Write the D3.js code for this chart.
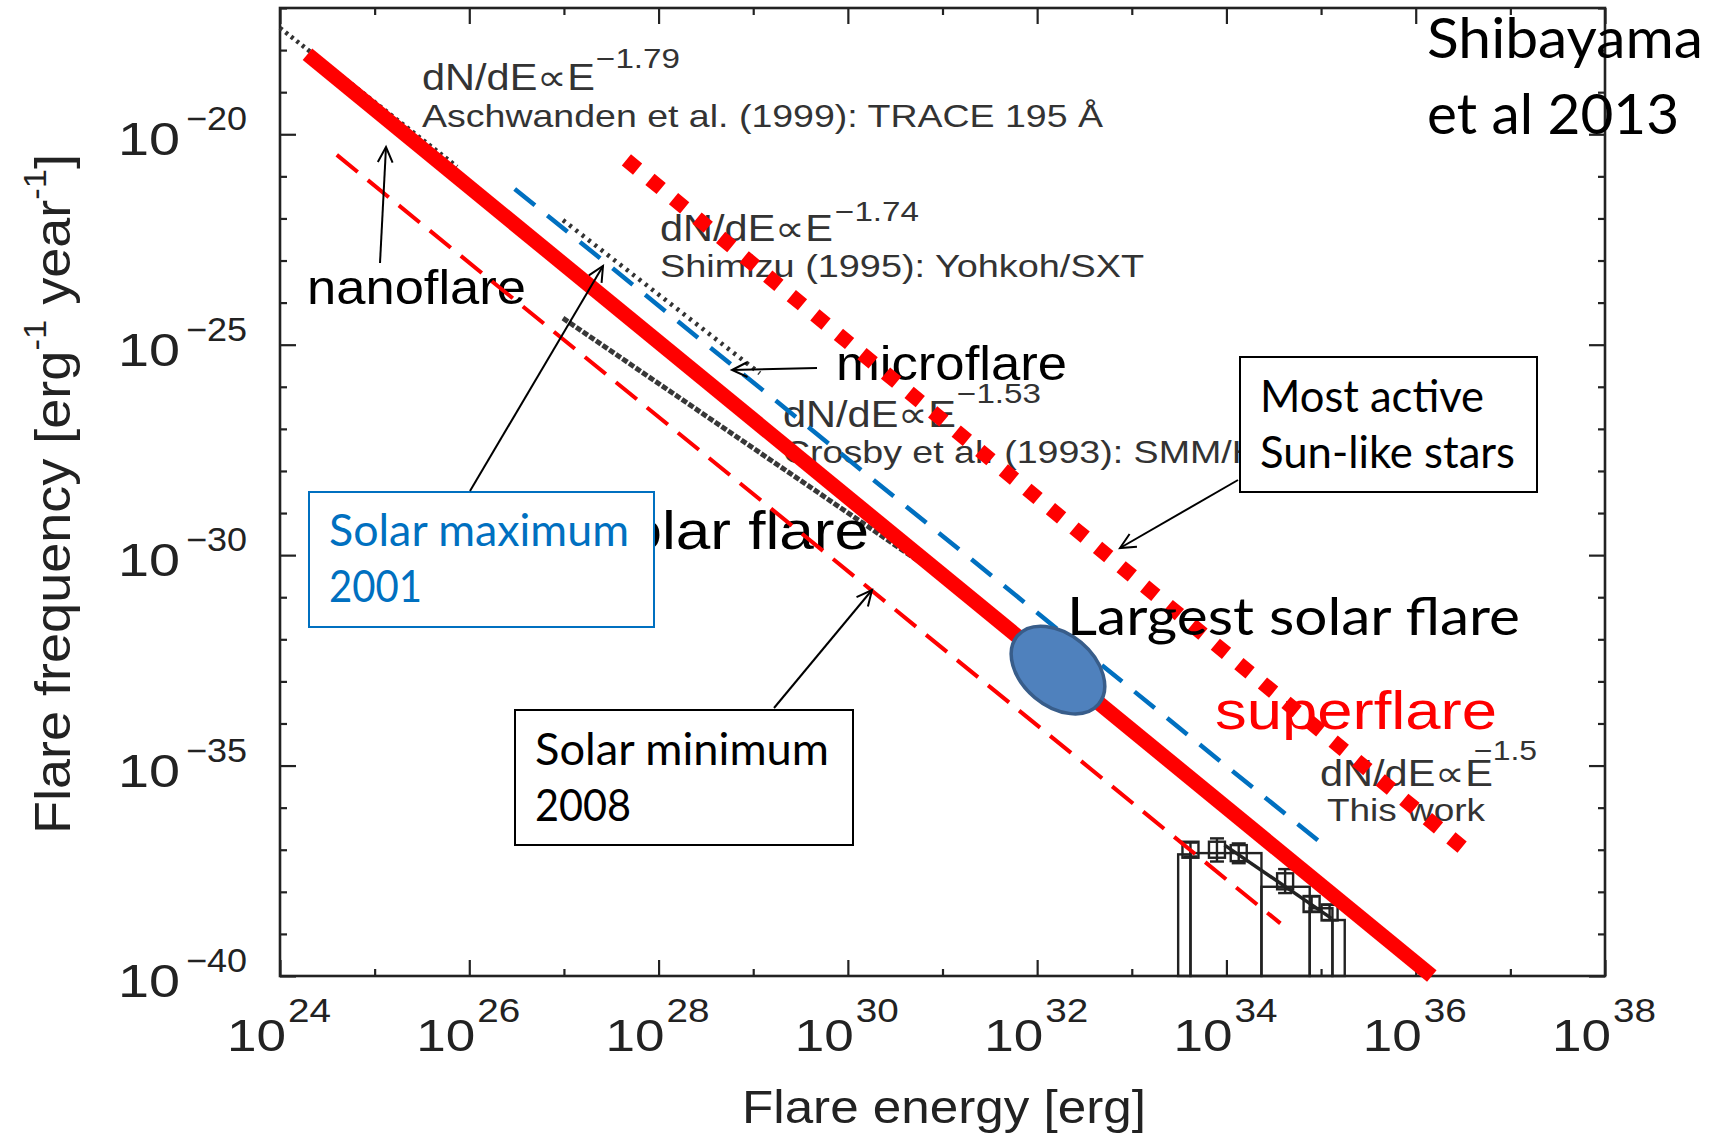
<!DOCTYPE html>
<html>
<head>
<meta charset="utf-8">
<script src="https://cdn.jsdelivr.net/npm/d3@7"></script>
<style>
  html, body { margin: 0; padding: 0; background: #fff; }
  svg { display: block; }
</style>
</head>
<body>
<div id="chart"></div>
<script>
/* Flare frequency distribution (Shibayama et al. 2013 style slide) */

/* ---- axis ticks (log10 exponents) ---- */
const xLabelExp = [24, 26, 28, 30, 32, 34, 36, 38];
const yLabelExp = [-20, -25, -30, -35, -40];

/* ---- power-law lines: log10 energy / log10 frequency end points ---- */
const aschwandenLogE = [24.0, 25.87];
const aschwandenLogF = [-17.475, -20.77];
const shimizuLogE = [26.99, 29.07];
const shimizuLogF = [-22.04, -25.68];
const crosbyLogE = [26.99, 30.85];
const crosbyLogF = [-24.37, -30.3];
const solarMinLogE = [24.6, 34.57];
const solarMinLogF = [-20.49, -38.75];
const solarMaxLogE = [26.48, 34.99];
const solarMaxLogF = [-21.3, -36.82];
const solarFlareLogE = [24.29, 36.17];
const solarFlareLogF = [-18.1, -40.0];
const activeStarsLogE = [27.66, 36.55];
const activeStarsLogF = [-20.61, -37.05];

/* ---- "This work" superflare histogram + points ---- */
const histEdgesLogE = [33.49, 33.62, 34.37, 34.88, 35.12, 35.25];
const histTopLogF = [-37.11, -37.08, -37.88, -38.39, -38.67];
const obsLogE = [33.62, 33.90, 34.13, 34.62, 34.90, 35.09];
const obsLogF = [-37.0, -37.0, -37.08, -37.75, -38.29, -38.49];
const obsLoLogF = [-37.16, -37.28, -37.32, -38.03, -38.47, -38.67];
const obsHiLogF = [-36.83, -36.73, -36.85, -37.46, -38.11, -38.31];
const fitLogE = [33.98, 35.11];
const fitLogF = [-36.89, -38.63];

/* largest observed solar flare */
const largestFlareLogE = [32.22];
const largestFlareLogF = [-32.73];

const W = 1721, H = 1133;
const MATLAB_FONT = "'Liberation Sans', Arial, Helvetica, sans-serif";
const PPT_FONT = "Lato, 'Noto Sans', sans-serif";
const p = v => Math.pow(10, v);

const svg = d3.select("#chart").append("svg").attr("width", W).attr("height", H);
svg.append("rect").attr("width", W).attr("height", H).attr("fill", "#fff");

const x = d3.scaleLog().domain([1e24, 1e38]).range([280, 1605]);
const y = d3.scaleLog().domain([1e-40, 1e-17]).range([976, 8]);
const x0 = x.range()[0], x1 = x.range()[1], y0 = y.range()[0], y1 = y.range()[1];

function txt(g, s, tx, ty, o) {
  const t = g.append("text").attr("x", tx).attr("y", ty)
    .style("font-family", o.font || MATLAB_FONT).style("font-size", o.size + "px")
    .attr("fill", o.color || "#222").attr("text-anchor", o.anchor || "start").text(s);
  if (o.len) t.attr("textLength", o.len).attr("lengthAdjust", "spacingAndGlyphs");
  return t;
}

const pts = (es, fs) => es.map((e, i) => [e, fs[i]]);
const line = d3.line().x(d => x(p(d[0]))).y(d => y(p(d[1])));

/* ══════════ axes (MATLAB box with inward ticks) ══════════ */
const axisG = svg.append("g");
const xMinor = d3.range(24, 39).filter(e => !xLabelExp.includes(e));
const yMinor = d3.range(-40, -16).filter(e => !yLabelExp.includes(e));

function ticks(axisFn, scale, vals, len, tr) {
  const a = axisG.append("g").attr("transform", tr)
    .call(axisFn(scale).tickValues(vals.map(p)).tickSize(-len).tickFormat(""));
  a.select(".domain").remove();
  a.selectAll("line").attr("stroke", "#222").attr("stroke-width", 2.2);
}
ticks(d3.axisBottom, x, xLabelExp, 16, `translate(0,${y0})`);
ticks(d3.axisBottom, x, xMinor, 7, `translate(0,${y0})`);
ticks(d3.axisTop, x, xLabelExp, 16, `translate(0,${y1})`);
ticks(d3.axisTop, x, xMinor, 7, `translate(0,${y1})`);
ticks(d3.axisLeft, y, yLabelExp, 16, `translate(${x0},0)`);
ticks(d3.axisLeft, y, yMinor, 7, `translate(${x0},0)`);
ticks(d3.axisRight, y, yLabelExp, 16, `translate(${x1},0)`);
ticks(d3.axisRight, y, yMinor, 7, `translate(${x1},0)`);

axisG.append("rect").attr("x", x0).attr("y", y1).attr("width", x1 - x0).attr("height", y0 - y1)
  .attr("fill", "none").attr("stroke", "#222").attr("stroke-width", 2.6);

/* tick labels 10^n */
xLabelExp.forEach(e => {
  const cx = x(p(e));
  txt(axisG, "10", cx - 53, y0 + 75, { size: 45, len: 59 });
  txt(axisG, String(e), cx + 8, y0 + 46, { size: 33, len: 43 });
});
yLabelExp.forEach(e => {
  const cy = y(p(e));
  txt(axisG, "10", 118, cy + 21, { size: 46, len: 62 });
  txt(axisG, "\u2212" + Math.abs(e), 186, cy - 4, { size: 33, len: 61 });
});

/* axis titles */
txt(axisG, "Flare energy [erg]", 944, 1123, { size: 46, len: 404, anchor: "middle" });
const yt = axisG.append("text")
  .attr("transform", "translate(70,494) rotate(-90)")
  .attr("text-anchor", "middle").attr("textLength", 680).attr("lengthAdjust", "spacingAndGlyphs")
  .style("font-family", MATLAB_FONT).style("font-size", "50px").attr("fill", "#222");
yt.append("tspan").text("Flare frequency [erg");
yt.append("tspan").attr("dy", -24).style("font-size", "32px").text("-1");
yt.append("tspan").attr("dy", 24).text("  year");
yt.append("tspan").attr("dy", -24).style("font-size", "32px").text("-1");
yt.append("tspan").attr("dy", 24).text("]");

/* ══════════ MATLAB black reference fits ══════════ */
const plotG = svg.append("g");
plotG.append("path").datum(pts(aschwandenLogE, aschwandenLogF)).attr("d", line)
  .attr("fill", "none").attr("stroke", "#333").attr("stroke-width", 4.5).attr("stroke-dasharray", "3,4");
plotG.append("path").datum(pts(shimizuLogE, shimizuLogF)).attr("d", line)
  .attr("fill", "none").attr("stroke", "#333").attr("stroke-width", 4.5).attr("stroke-dasharray", "3,5");
plotG.append("path").datum(pts(crosbyLogE, crosbyLogF)).attr("d", line)
  .attr("fill", "none").attr("stroke", "#383838").attr("stroke-width", 5).attr("stroke-dasharray", "6,2");

/* histogram of superflares */
const hist = histTopLogF.map((f, i) => ({ e0: histEdgesLogE[i], e1: histEdgesLogE[i + 1], f }));
plotG.selectAll(".hbar").data(hist).enter().append("rect").attr("class", "hbar")
  .attr("x", d => x(p(d.e0))).attr("width", d => x(p(d.e1)) - x(p(d.e0)))
  .attr("y", d => y(p(d.f))).attr("height", d => y0 - y(p(d.f)))
  .attr("fill", "none").attr("stroke", "#222").attr("stroke-width", 2.4);

const obs = obsLogE.map((e, i) => ({ e, f: obsLogF[i], lo: obsLoLogF[i], hi: obsHiLogF[i] }));
const eb = plotG.selectAll(".eb").data(obs).enter().append("g").attr("class", "eb");
eb.append("line").attr("x1", d => x(p(d.e))).attr("x2", d => x(p(d.e)))
  .attr("y1", d => y(p(d.lo))).attr("y2", d => y(p(d.hi)));
eb.append("line").attr("x1", d => x(p(d.e)) - 7).attr("x2", d => x(p(d.e)) + 7)
  .attr("y1", d => y(p(d.lo))).attr("y2", d => y(p(d.lo)));
eb.append("line").attr("x1", d => x(p(d.e)) - 7).attr("x2", d => x(p(d.e)) + 7)
  .attr("y1", d => y(p(d.hi))).attr("y2", d => y(p(d.hi)));
eb.append("rect").attr("x", d => x(p(d.e)) - 8).attr("y", d => y(p(d.f)) - 8)
  .attr("width", 16).attr("height", 16).attr("fill", "none");
eb.selectAll("line, rect").attr("stroke", "#222").attr("stroke-width", 2.4);
plotG.append("path").datum(pts(fitLogE, fitLogF)).attr("d", line)
  .attr("fill", "none").attr("stroke", "#222").attr("stroke-width", 3.5);

/* MATLAB text labels */
const labG = svg.append("g");
const lab = { size: 32, color: "#333" };
const law = { size: 36, color: "#333", len: 173 };
const sup = { size: 27, color: "#333", len: 84 };
txt(labG, "dN/dE\u221DE", 422, 90, law);
txt(labG, "\u22121.79", 596, 68, sup);
txt(labG, "Aschwanden et al. (1999): TRACE 195 \u00C5", 422, 127, { ...lab, len: 681 });
txt(labG, "dN/dE\u221DE", 660, 241, law);
txt(labG, "\u22121.74", 835, 221, sup);
txt(labG, "Shimizu (1995): Yohkoh/SXT", 660, 277, { ...lab, len: 484 });
txt(labG, "dN/dE\u221DE", 783, 427, law);
txt(labG, "\u22121.53", 957, 403, sup);
txt(labG, "Crosby et al. (1993): SMM/HXRBS", 783, 463, { ...lab, len: 578 });
txt(labG, "dN/dE\u221DE", 1320, 786, law);
txt(labG, "\u22121.5", 1474, 760, { ...sup, len: 63 });
txt(labG, "This work", 1327, 821, { ...lab, len: 158 });

/* ══════════ slide overlay: labels under the drawn lines ══════════ */
const ovG = svg.append("g");
txt(ovG, "nanoflare", 307, 304, { size: 48, len: 219, color: "#000" });
txt(ovG, "microflare", 836, 380, { size: 48, len: 231, color: "#000" });
txt(ovG, "Solar flare", 586, 549, { size: 53, len: 283, color: "#000" });
txt(ovG, "superflare", 1215, 729, { size: 54, len: 282, color: "#f00" });

/* overlay power laws */
const lineG = svg.append("g");
lineG.append("path").datum(pts(solarMinLogE, solarMinLogF)).attr("d", line)
  .attr("fill", "none").attr("stroke", "#f00").attr("stroke-width", 4).attr("stroke-dasharray", "27,13");
lineG.append("path").datum(pts(solarMaxLogE, solarMaxLogF)).attr("d", line)
  .attr("fill", "none").attr("stroke", "#0070c0").attr("stroke-width", 4.5).attr("stroke-dasharray", "26,16");
lineG.append("path").datum(pts(solarFlareLogE, solarFlareLogF)).attr("d", line)
  .attr("fill", "none").attr("stroke", "#f00").attr("stroke-width", 15);
lineG.append("path").datum(pts(activeStarsLogE, activeStarsLogF)).attr("d", line)
  .attr("fill", "none").attr("stroke", "#f00").attr("stroke-width", 14.5).attr("stroke-dasharray", "14.5,16");

/* largest solar flare ellipse */
const annG = svg.append("g");
annG.selectAll(".lf").data(largestFlareLogE).enter().append("ellipse").attr("class", "lf")
  .attr("transform", (d, i) => `translate(${x(p(d))},${y(p(largestFlareLogF[i]))}) rotate(40)`)
  .attr("rx", 53).attr("ry", 36)
  .attr("fill", "#4f81bd").attr("stroke", "#385d8a").attr("stroke-width", 3.5);

txt(annG, "Largest solar flare", 1067, 635, { size: 52, len: 453, color: "#000", font: PPT_FONT });

/* text boxes */
function box(bx, by, bw, bh, col) {
  annG.append("rect").attr("x", bx).attr("y", by).attr("width", bw).attr("height", bh)
    .attr("fill", "#fff").attr("stroke", col).attr("stroke-width", 2);
}
box(309, 492, 345, 135, "#0070c0");
txt(annG, "Solar maximum", 329, 546, { size: 44, len: 300, color: "#0070c0", font: PPT_FONT });
txt(annG, "2001", 329, 602, { size: 44, len: 93, color: "#0070c0", font: PPT_FONT });

box(515, 710, 338, 135, "#000");
txt(annG, "Solar minimum", 535, 765, { size: 44, len: 294, color: "#000", font: PPT_FONT });
txt(annG, "2008", 535, 821, { size: 44, len: 96, color: "#000", font: PPT_FONT });

box(1240, 357, 297, 135, "#000");
txt(annG, "Most active", 1260, 412, { size: 44, len: 224, color: "#000", font: PPT_FONT });
txt(annG, "Sun-like stars", 1260, 468, { size: 44, len: 255, color: "#000", font: PPT_FONT });

txt(annG, "Shibayama", 1427, 58, { size: 56, len: 276, color: "#000", font: PPT_FONT });
txt(annG, "et al 2013", 1427, 134, { size: 56, len: 252, color: "#000", font: PPT_FONT });

/* arrows */
function arrow(ax1, ay1, ax2, ay2) {
  const a = Math.atan2(ay2 - ay1, ax2 - ax1), L = 17, s = 0.45;
  const g = annG.append("g").attr("stroke", "#000").attr("stroke-width", 2).attr("fill", "none");
  g.append("line").attr("x1", ax1).attr("y1", ay1).attr("x2", ax2).attr("y2", ay2);
  g.append("path").attr("d",
    `M${ax2 - L * Math.cos(a - s)},${ay2 - L * Math.sin(a - s)}L${ax2},${ay2}` +
    `L${ax2 - L * Math.cos(a + s)},${ay2 - L * Math.sin(a + s)}`);
}
arrow(380, 263, 386, 147);
arrow(470, 491, 603, 266);
arrow(817, 368, 732, 370);
arrow(774, 708, 872, 590);
arrow(1238, 480, 1120, 548);
</script>
</body>
</html>
